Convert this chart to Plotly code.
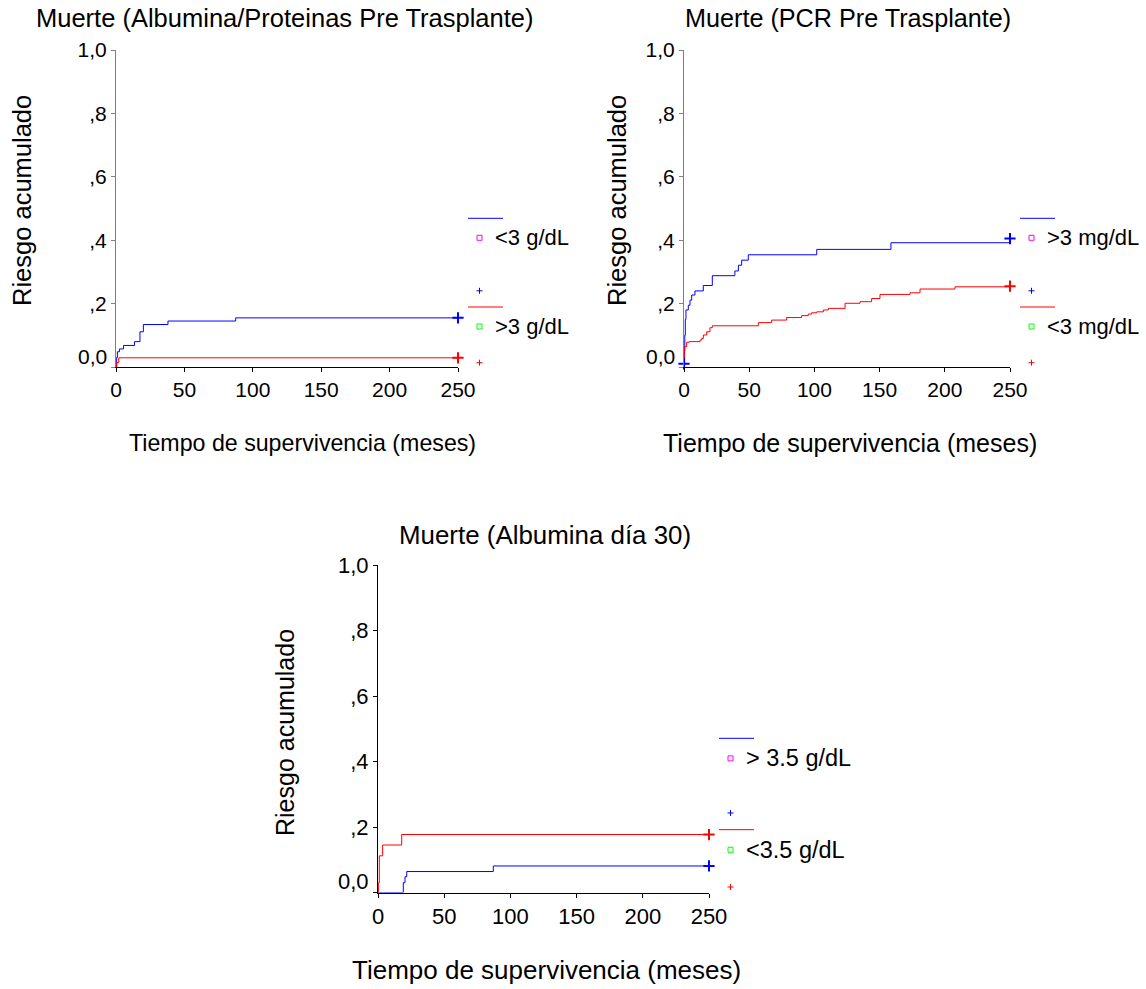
import plotly.graph_objects as go

W, H = 1146, 989
FONT = "Liberation Sans, Arial, sans-serif"
BLUE, RED = "#0000ff", "#ff0000"

# ---------------- data ----------------
# Panel 1: Muerte (Albumina/Proteinas Pre Trasplante)
p1_blue_t = [0, 0.5, 1.0, 2.5, 5.5, 13.5, 17.5, 20, 38, 87.5, 250]
p1_blue_r = [0, 0.030, 0.048, 0.057, 0.068, 0.080, 0.111, 0.134, 0.145, 0.155, 0.155]
p1_red_t = [0, 0.5, 2, 250]
p1_red_r = [0, 0.014, 0.029, 0.029]
p1_blue_cens_t, p1_blue_cens_r = [250], [0.155]
p1_red_cens_t, p1_red_cens_r = [250], [0.029]

# Panel 2: Muerte (PCR Pre Trasplante)
p2_blue_t = [0, 0.3, 0.6, 1.0, 1.5, 3.3, 4.6, 5.9, 8.4, 14.8, 21.7, 39, 41.7, 44.2,
             49.3, 101.8, 158.7, 250]
p2_blue_r = [0, 0.05, 0.10, 0.15, 0.18, 0.195, 0.211, 0.227, 0.240, 0.257, 0.288, 0.303,
             0.321, 0.337, 0.354, 0.371, 0.392, 0.392]
p2_red_t = [0, 0.5, 2, 4, 12.3, 13.6, 14.8, 17.4, 19.9, 21.7, 57, 67.2, 78.7, 90.2, 95.3,
            97.9, 101.8, 106.9, 110.7, 123.5, 135, 143.9, 150.3, 173.3, 181, 207.8, 250]
p2_red_r = [0, 0.064, 0.078, 0.080, 0.085, 0.090, 0.101, 0.111, 0.124, 0.130, 0.140, 0.148,
            0.156, 0.162, 0.167, 0.171, 0.174, 0.180, 0.185, 0.201, 0.206, 0.216, 0.229,
            0.234, 0.246, 0.253, 0.253]
p2_blue_cens_t, p2_blue_cens_r = [0, 250], [0.01, 0.405]
p2_red_cens_t, p2_red_cens_r = [250], [0.255]

# Panel 3: Muerte (Albumina día 30)
p3_blue_t = [0, 19.1, 20.4, 21.7, 87.1, 250]
p3_blue_r = [0, 0.030, 0.048, 0.064, 0.081, 0.081]
p3_red_t = [0, 0.3, 1.0, 3.5, 17.9, 250]
p3_red_r = [0, 0.030, 0.112, 0.145, 0.177, 0.177]
p3_blue_cens_t, p3_blue_cens_r = [250], [0.081]
p3_red_cens_t, p3_red_cens_r = [250], [0.177]

x_ticks = [0, 50, 100, 150, 200, 250]
y_ticks = [0, 0.2, 0.4, 0.6, 0.8, 1.0]
y_ticktext = ["", ",2", ",4", ",6", ",8", "1,0"]

titles = ["Muerte (Albumina/Proteinas Pre Trasplante)", "Muerte (PCR Pre Trasplante)",
          "Muerte (Albumina día 30)"]
legend_labels = [("<3 g/dL", ">3 g/dL"), (">3 mg/dL", "<3 mg/dL"), ("> 3.5 g/dL", "<3.5 g/dL")]
x_title = "Tiempo de supervivencia (meses)"
y_title = "Riesgo acumulado"

# ---------------- layout geometry (pixels) ----------------
panels = [
    dict(x0=116, x1=458, ytop=50, ybot=367, ycolor="#7f7f7f",
         title=(284, 18), ytitle=(22, 201), xtitle=(302, 443), leg=(468, 218.3, 1.0),
         fs_title=25.5, fs_x=23.2, fs_y=25.5, fs_tick=21, fs_leg=22),
    dict(x0=684, x1=1010, ytop=50, ybot=367, ycolor="#7f7f7f",
         title=(848, 18), ytitle=(617, 201), xtitle=(850, 443), leg=(1020, 218.3, 1.0),
         fs_title=25.2, fs_x=25.0, fs_y=25.5, fs_tick=21, fs_leg=22),
    dict(x0=378, x1=709, ytop=565, ybot=892.5, ycolor="#000000",
         title=(545, 535), ytitle=(285, 733), xtitle=(546, 970), leg=(719, 738.3, 1.03),
         fs_title=25.9, fs_x=26.0, fs_y=25.0, fs_tick=22, fs_leg=23.5),
]

data = [
    (p1_blue_t, p1_blue_r, p1_red_t, p1_red_r, p1_blue_cens_t, p1_blue_cens_r, p1_red_cens_t, p1_red_cens_r),
    (p2_blue_t, p2_blue_r, p2_red_t, p2_red_r, p2_blue_cens_t, p2_blue_cens_r, p2_red_cens_t, p2_red_cens_r),
    (p3_blue_t, p3_blue_r, p3_red_t, p3_red_r, p3_blue_cens_t, p3_blue_cens_r, p3_red_cens_t, p3_red_cens_r),
]


def px(x):
    return x / W


def py(y):
    return 1 - y / H


fig = go.Figure()
shapes = []
annotations = []
layout_axes = {}

for i, (p, d) in enumerate(zip(panels, data)):
    n = "" if i == 0 else str(i + 1)
    xa, ya = "x" + n, "y" + n
    bt, br, rt, rr, bct, bcr, rct, rcr = d
    fig.add_trace(go.Scatter(x=bt, y=br, mode="lines", line=dict(color=BLUE, width=1, shape="hv"),
                             xaxis=xa, yaxis=ya, showlegend=False, cliponaxis=False))
    fig.add_trace(go.Scatter(x=rt, y=rr, mode="lines", line=dict(color=RED, width=1, shape="hv"),
                             xaxis=xa, yaxis=ya, showlegend=False, cliponaxis=False))
    fig.add_trace(go.Scatter(x=bct, y=bcr, mode="markers",
                             marker=dict(symbol="cross-thin", size=8, line=dict(color=BLUE, width=2)),
                             xaxis=xa, yaxis=ya, showlegend=False, cliponaxis=False))
    fig.add_trace(go.Scatter(x=rct, y=rcr, mode="markers",
                             marker=dict(symbol="cross-thin", size=8, line=dict(color=RED, width=2)),
                             xaxis=xa, yaxis=ya, showlegend=False, cliponaxis=False))

    layout_axes["xaxis" + n] = dict(
        domain=[px(p["x0"]), px(p["x1"])], range=[0, 250], anchor=ya,
        tickvals=x_ticks, ticks="outside", ticklen=4, tickcolor="#000000",
        showline=True, linecolor="#000000", linewidth=1, showgrid=False, zeroline=False,
        automargin=False,
        tickfont=dict(size=p["fs_tick"], color="#000000", family=FONT), fixedrange=True)
    layout_axes["yaxis" + n] = dict(
        domain=[py(p["ybot"]), py(p["ytop"])], range=[0, 1], anchor=xa,
        tickvals=y_ticks, ticktext=y_ticktext, ticks="outside", ticklen=4, tickcolor=p["ycolor"],
        showline=True, linecolor=p["ycolor"], linewidth=1, showgrid=False, zeroline=False,
        automargin=False,
        tickfont=dict(size=p["fs_tick"], color="#000000", family=FONT), fixedrange=True)

    # "0,0" label sits slightly above the axis origin
    annotations.append(dict(x=0, y=0.033, xref=xa, yref=ya, text="0,0", showarrow=False,
                            xanchor="right", yanchor="middle", xshift=-7,
                            font=dict(size=p["fs_tick"], family=FONT, color="#000000")))

    # titles
    tx, ty = p["title"]
    annotations.append(dict(x=px(tx), y=py(ty), xref="paper", yref="paper", text=titles[i],
                            showarrow=False, xanchor="center", yanchor="middle",
                            font=dict(size=p["fs_title"], family=FONT, color="#000000")))
    yx, yy = p["ytitle"]
    annotations.append(dict(x=px(yx), y=py(yy), xref="paper", yref="paper", text=y_title,
                            showarrow=False, xanchor="center", yanchor="middle", textangle=-90,
                            font=dict(size=p["fs_y"], family=FONT, color="#000000")))
    xx, xy = p["xtitle"]
    annotations.append(dict(x=px(xx), y=py(xy), xref="paper", yref="paper", text=x_title,
                            showarrow=False, xanchor="center", yanchor="middle",
                            font=dict(size=p["fs_x"], family=FONT, color="#000000")))

    # legend (drawn as in the original: line / square+label / cross, per group)
    lx, ly, s = p["leg"]
    lab_top, lab_bot = legend_labels[i]
    for gi, (col, sqcol, lab) in enumerate([(BLUE, "#ff00ff", lab_top), (RED, "#00ff00", lab_bot)]):
        base = ly + gi * 88.7 * s
        shapes.append(dict(type="line", xref="paper", yref="paper",
                           x0=px(lx), x1=px(lx + 35), y0=py(base), y1=py(base),
                           line=dict(color=col, width=1)))
        sqy = base + 19.5 * s
        sqx = lx + 11.5
        shapes.append(dict(type="rect", xref="paper", yref="paper",
                           x0=px(sqx - 2.5), x1=px(sqx + 2.5), y0=py(sqy - 2.5), y1=py(sqy + 2.5),
                           line=dict(color=sqcol, width=1), fillcolor="rgba(0,0,0,0)"))
        annotations.append(dict(x=px(lx + 25), y=py(sqy), xref="paper", yref="paper", text=lab,
                                showarrow=False, xanchor="left", yanchor="middle",
                                font=dict(size=p["fs_leg"], family=FONT, color="#000000")))
        cy = base + 72.5 * s if gi == 0 else base + 55.7 * s
        shapes.append(dict(type="line", xref="paper", yref="paper",
                           x0=px(sqx - 3), x1=px(sqx + 3), y0=py(cy), y1=py(cy),
                           line=dict(color=col, width=1)))
        shapes.append(dict(type="line", xref="paper", yref="paper",
                           x0=px(sqx), x1=px(sqx), y0=py(cy - 3), y1=py(cy + 3),
                           line=dict(color=col, width=1)))

fig.update_layout(
    width=W, height=H, margin=dict(l=0, r=0, t=0, b=0, pad=0, autoexpand=False),
    paper_bgcolor="#ffffff", plot_bgcolor="#ffffff",
    font=dict(family=FONT, size=21, color="#000000"),
    showlegend=False, shapes=shapes, annotations=annotations, **layout_axes)

fig.write_html(
    "out.html",
    config={"displayModeBar": False},
    post_script="document.body.style.margin='0';document.body.style.padding='0';"
                "document.body.style.overflow='hidden';"
                "document.documentElement.style.overflow='hidden';",
)
